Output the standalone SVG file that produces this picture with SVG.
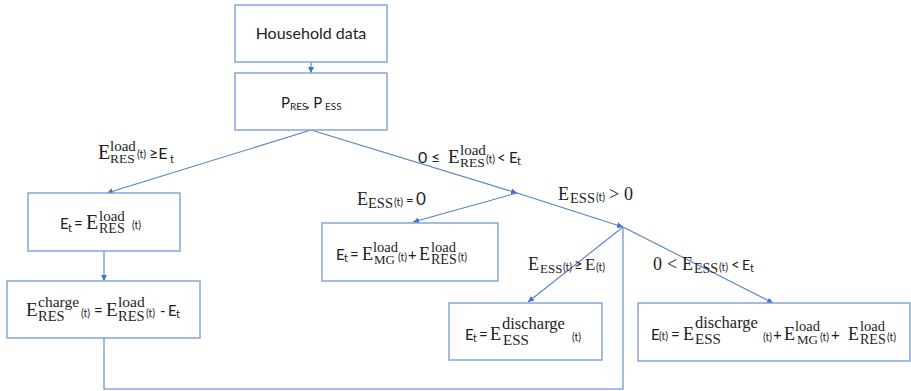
<svg xmlns="http://www.w3.org/2000/svg" width="911" height="391" viewBox="0 0 911 391">
<defs>
<marker id="ah" viewBox="0 0 10 10" refX="10" refY="5" markerWidth="6" markerHeight="6" orient="auto" markerUnits="userSpaceOnUse">
<path d="M0,0 L10,5 L0,10 z" fill="#4472c4"/>
</marker>
<style>
.box{fill:#fff;stroke:#7f9fda;stroke-width:1.4}
.ln{fill:none;stroke:#5580cc;stroke-width:1.1}
text{fill:#1e1e1e}
.s{font-family:Lato,"Liberation Sans",Arial,sans-serif;font-size:15px}
.m{font-family:"Liberation Serif","Times New Roman",serif;font-size:19px}
.sc{font-family:"Liberation Serif","Times New Roman",serif;font-size:14.5px}
.tt{font-family:Lato,"Liberation Sans",Arial,sans-serif;font-size:10.5px}
</style>
</defs>
<rect width="911" height="391" fill="#fff"/>
<g id="connectors">
<line class="ln" x1="311" y1="62" x2="311" y2="73" marker-end="url(#ah)"/>
<line class="ln" x1="311" y1="130" x2="107" y2="193" marker-end="url(#ah)"/>
<line class="ln" x1="311" y1="130" x2="517" y2="193" marker-end="url(#ah)"/>
<line class="ln" x1="517" y1="193" x2="623" y2="227" marker-end="url(#ah)"/>
<line class="ln" x1="517" y1="193" x2="413" y2="222" marker-end="url(#ah)"/>
<line class="ln" x1="623" y1="227" x2="773" y2="303" marker-end="url(#ah)"/>
<line class="ln" x1="623" y1="227" x2="528" y2="302" marker-end="url(#ah)"/>
<line class="ln" x1="104" y1="251" x2="104" y2="281" marker-end="url(#ah)"/>
<polyline class="ln" points="104,338 104,389 623,389 623,228"/>
</g>
<g id="labels">
<text><tspan class="m" x="98" y="159" style="font-size:20px">E</tspan><tspan class="sc" x="110" y="151" style="font-size:15px">load</tspan><tspan class="sc" x="110" y="163" style="font-size:13.5px">RES</tspan><tspan class="tt" x="137" y="158">(t)</tspan><tspan class="s" x="149" y="159" style="font-size:16px">≥E</tspan><tspan class="s" x="170" y="163" style="font-size:11px">t</tspan></text>
<text><tspan class="s" x="418" y="163" style="font-size:16px">0</tspan><tspan class="s" x="431" y="163" style="font-size:16px">≤</tspan><tspan class="m" x="448" y="163">E</tspan><tspan class="sc" x="460" y="155" style="font-size:15px">load</tspan><tspan class="sc" x="460" y="167" style="font-size:13.5px">RES</tspan><tspan class="tt" x="486" y="163">(t)</tspan><tspan class="s" x="497" y="163">&lt;</tspan><tspan class="s" x="509" y="163">E</tspan><tspan class="s" x="517" y="165" style="font-size:11px">t</tspan></text>
<text><tspan class="m" x="357" y="205" style="font-size:18px">E</tspan><tspan class="sc" x="368" y="208">ESS</tspan><tspan class="tt" x="394" y="206">(t)</tspan><tspan class="s" x="406" y="205" style="font-size:13px">=</tspan><tspan class="s" x="416" y="205" style="font-size:17px">0</tspan></text>
<text><tspan class="m" x="558" y="200" style="font-size:18px">E</tspan><tspan class="sc" x="570" y="203">ESS</tspan><tspan class="tt" x="596" y="201">(t)</tspan><tspan class="m" x="609" y="200" style="font-size:18px">&gt;</tspan><tspan class="m" x="624" y="200" style="font-size:18px">0</tspan></text>
<text><tspan class="m" x="528" y="270" style="font-size:18px">E</tspan><tspan class="sc" x="540" y="273" style="font-size:13px">ESS</tspan><tspan class="tt" x="563" y="271">(t)</tspan><tspan class="s" x="574" y="270">≥</tspan><tspan class="m" x="585" y="270" style="font-size:17px">E</tspan><tspan class="tt" x="596" y="271">(t)</tspan></text>
<text><tspan class="m" x="653" y="270" style="font-size:18px">0</tspan><tspan class="m" x="667" y="270" style="font-size:18px">&lt;</tspan><tspan class="m" x="682" y="270" style="font-size:18px">E</tspan><tspan class="sc" x="694" y="273" style="font-size:14px">ESS</tspan><tspan class="tt" x="719" y="271">(t)</tspan><tspan class="s" x="731" y="270">&lt;</tspan><tspan class="s" x="742" y="270" style="font-size:14px">E</tspan><tspan class="s" x="750" y="272" style="font-size:11px">t</tspan></text>
</g>
<g id="n1">
<rect class="box" x="235" y="5" width="152" height="57"/>
<text class="s" x="311" y="39" text-anchor="middle" style="font-size:16px">Household data</text>
</g>
<g id="n2">
<rect class="box" x="235" y="73" width="152" height="57"/>
<text class="s" style="font-size:15px"><tspan x="281" y="108">P</tspan><tspan x="290" y="110" style="font-size:10px">RES</tspan><tspan x="306" y="108">, P</tspan><tspan x="325" y="110" style="font-size:10px">ESS</tspan></text>
</g>
<g id="n3">
<rect class="box" x="28" y="193" width="152" height="58"/>
<text><tspan class="s" x="60" y="229">E</tspan><tspan class="s" x="68" y="232" style="font-size:11px">t</tspan><tspan class="s" x="74" y="229">=</tspan><tspan class="m" x="86" y="229" style="font-size:20px">E</tspan><tspan class="sc" x="99" y="221" style="font-size:15px">load</tspan><tspan class="sc" x="99" y="233" style="font-size:14px">RES</tspan><tspan class="tt" x="132" y="229">(t)</tspan></text>
</g>
<g id="n4">
<rect class="box" x="7" y="281" width="193" height="57"/>
<text><tspan class="m" x="26" y="316">E</tspan><tspan class="sc" x="38" y="307" style="font-size:15.5px">charge</tspan><tspan class="sc" x="38" y="321">RES</tspan><tspan class="tt" x="81" y="317">(t)</tspan><tspan class="s" x="94" y="316">=</tspan><tspan class="m" x="106" y="316">E</tspan><tspan class="sc" x="118" y="307" style="font-size:15.5px">load</tspan><tspan class="sc" x="118" y="321">RES</tspan><tspan class="tt" x="146" y="317">(t)</tspan><tspan class="s" x="160" y="316">-</tspan><tspan class="s" x="168" y="316">E</tspan><tspan class="s" x="176" y="318" style="font-size:11px">t</tspan></text>
</g>
<g id="n5">
<rect class="box" x="322" y="223" width="176" height="58"/>
<text><tspan class="s" x="336" y="260">E</tspan><tspan class="s" x="344" y="262" style="font-size:10.5px">t</tspan><tspan class="s" x="350" y="260">=</tspan><tspan class="m" x="362" y="260" style="font-size:18px">E</tspan><tspan class="sc" x="373" y="252">load</tspan><tspan class="sc" x="374" y="264" style="font-size:13px">MG</tspan><tspan class="tt" x="398" y="261">(t)</tspan><tspan class="s" x="408" y="260">+</tspan><tspan class="m" x="419" y="260" style="font-size:18px">E</tspan><tspan class="sc" x="431" y="252">load</tspan><tspan class="sc" x="431" y="264" style="font-size:14px">RES</tspan><tspan class="tt" x="458" y="261">(t)</tspan></text>
</g>
<g id="n6">
<rect class="box" x="449" y="303" width="153" height="57"/>
<text><tspan class="s" x="465" y="340">E</tspan><tspan class="s" x="473" y="342" style="font-size:10.5px">t</tspan><tspan class="s" x="479" y="340">=</tspan><tspan class="m" x="490" y="340" style="font-size:18px">E</tspan><tspan class="sc" x="502" y="329" style="font-size:16.5px">discharge</tspan><tspan class="sc" x="503" y="345" style="font-size:15px">ESS</tspan><tspan class="tt" x="572" y="341">(t)</tspan></text>
</g>
<g id="n7">
<rect class="box" x="638" y="303" width="272" height="58"/>
<text><tspan class="s" x="651" y="340">E</tspan><tspan class="tt" x="659" y="340">(t)</tspan><tspan class="s" x="671" y="340">=</tspan><tspan class="m" x="683" y="340" style="font-size:18px">E</tspan><tspan class="sc" x="695" y="328" style="font-size:16.5px">discharge</tspan><tspan class="sc" x="695" y="344" style="font-size:15px">ESS</tspan><tspan class="tt" x="763" y="341">(t)</tspan><tspan class="s" x="773" y="340">+</tspan><tspan class="m" x="784" y="340" style="font-size:18px">E</tspan><tspan class="sc" x="795" y="331">load</tspan><tspan class="sc" x="797" y="344" style="font-size:13px">MG</tspan><tspan class="tt" x="820" y="341">(t)</tspan><tspan class="s" x="831" y="340">+</tspan><tspan class="m" x="848" y="340" style="font-size:18px">E</tspan><tspan class="sc" x="860" y="331">load</tspan><tspan class="sc" x="860" y="344" style="font-size:14px">RES</tspan><tspan class="tt" x="887" y="341">(t)</tspan></text>
</g>
</svg>
